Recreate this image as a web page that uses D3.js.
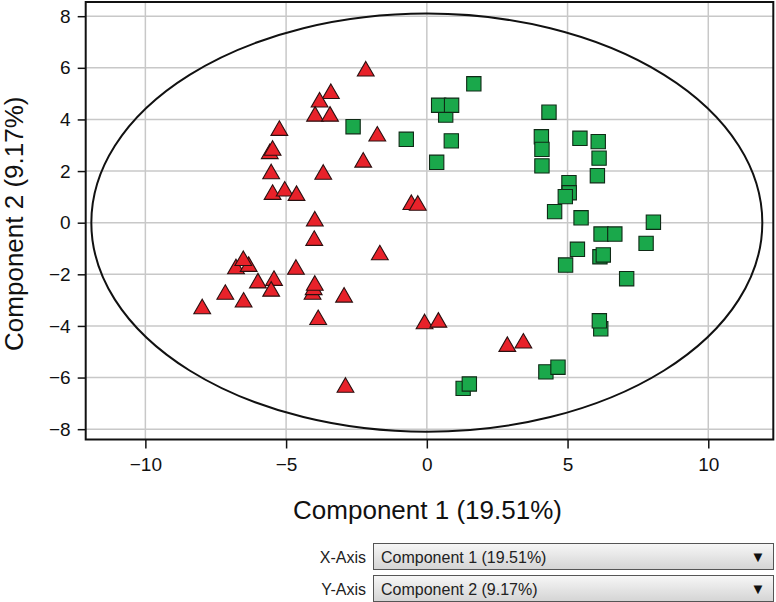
<!DOCTYPE html>
<meta charset="utf-8">
<head>
  <style>
    body { margin: 0; background: #fff; font-family: "Liberation Sans", Arial, Helvetica, sans-serif; }
    .grid line { stroke: #c8c8c8; stroke-width: 1.5; }
    .axis text { font-size: 19px; fill: #111; }
    .axis path { display: none; }
    .axis line { stroke: #111; stroke-width: 1.5; }
    .title { font-size: 26px; fill: #111; }
  </style>
</head>
<body>
  <div class="chart"></div>
  <script src="https://d3js.org/d3.v7.min.js"></script>
  <script>

    // group 1 (red triangles): [component 1, component 2]
    var triangles = [
      [-2.17, 5.89], [-3.41, 5.02], [-3.81, 4.69], [-3.97, 4.14], [-3.44, 4.14],
      [-1.76, 3.37], [-5.24, 3.59], [-5.58, 2.69], [-5.48, 2.82], [-2.26, 2.36],
      [-5.53, 1.91], [-3.68, 1.89], [-5.48, 1.11], [-5.05, 1.24], [-4.63, 1.07],
      [-0.55, 0.72], [-0.32, 0.69], [-3.98, 0.08], [-4.00, -0.67], [-1.67, -1.23],
      [-4.65, -1.79], [-6.00, -2.32], [-5.43, -2.22], [-5.53, -2.64], [-4.06, -2.76],
      [-4.02, -2.58], [-3.98, -2.41], [-2.94, -2.87], [-3.86, -3.74], [-0.08, -3.90],
      [0.41, -3.84], [2.86, -4.78], [3.43, -4.65], [-2.89, -6.36], [-7.98, -3.32],
      [-7.16, -2.76], [-6.51, -3.06], [-6.78, -1.77], [-6.33, -1.68], [-6.52, -1.45]
    ];

    // group 2 (green squares)
    var squares = [
      [-2.62, 3.72], [-0.73, 3.23], [0.35, 2.34], [0.87, 3.17], [0.67, 4.17],
      [0.42, 4.55], [0.88, 4.55], [1.67, 5.38], [4.34, 4.28], [4.07, 3.33],
      [4.09, 2.84], [4.09, 2.20], [5.44, 3.27], [6.09, 3.14], [6.12, 2.50],
      [6.06, 1.82], [5.05, 1.55], [5.06, 1.16], [4.92, 1.01], [4.54, 0.43],
      [5.48, 0.19], [8.05, 0.02], [6.19, -0.44], [6.68, -0.44], [7.79, -0.80],
      [5.35, -1.03], [6.15, -1.32], [6.27, -1.25], [4.93, -1.64], [7.10, -2.17],
      [6.18, -4.11], [6.13, -3.80], [4.23, -5.78], [4.66, -5.60], [1.29, -6.42],
      [1.51, -6.25]
    ];

    var xTicks = [-10, -5, 0, 5, 10];
    var yTicks = [-8, -6, -4, -2, 0, 2, 4, 6, 8];
    var xTitle = "Component 1 (19.51%)";
    var yTitle = "Component 2 (9.17%)";
    var ellipse = { cx: 0, cy: 0, rx: 11.92, ry: 8.1 };
    var selectors = [["X-Axis", xTitle], ["Y-Axis", yTitle]];

    var width = 776, height = 602;
    var plot = { left: 85.7, right: 773.3, top: 2, bottom: 439.5 };

    var x = d3.scaleLinear().domain([-12.12, 12.31]).range([plot.left, plot.right]);
    var y = d3.scaleLinear().domain([-8.4, 8.55]).range([plot.bottom, plot.top]);

    var svg = d3.select(".chart").append("svg")
        .attr("width", width)
        .attr("height", height);

    var defs = svg.append("defs");
    var grad = defs.append("linearGradient")
        .attr("id", "btn").attr("x1", 0).attr("y1", 0).attr("x2", 0).attr("y2", 1);
    grad.append("stop").attr("offset", "0%").attr("stop-color", "#f7f7f7");
    grad.append("stop").attr("offset", "100%").attr("stop-color", "#d4d4d4");

    // grid
    var grid = svg.append("g").attr("class", "grid");
    grid.selectAll(".gx").data(xTicks).enter().append("line")
        .attr("x1", function(d) { return x(d); }).attr("x2", function(d) { return x(d); })
        .attr("y1", plot.top).attr("y2", plot.bottom);
    grid.selectAll(".gy").data(yTicks).enter().append("line")
        .attr("y1", function(d) { return y(d); }).attr("y2", function(d) { return y(d); })
        .attr("x1", plot.left).attr("x2", plot.right);

    // axes
    svg.append("g")
        .attr("class", "axis")
        .attr("transform", "translate(0," + plot.bottom + ")")
        .call(d3.axisBottom(x).tickValues(xTicks).tickSize(9).tickPadding(9));

    svg.append("g")
        .attr("class", "axis")
        .attr("transform", "translate(" + plot.left + ",0)")
        .call(d3.axisLeft(y).tickValues(yTicks).tickSize(8).tickPadding(7));

    // confidence ellipse
    svg.append("ellipse")
        .attr("cx", x(ellipse.cx))
        .attr("cy", y(ellipse.cy))
        .attr("rx", x(ellipse.rx) - x(0))
        .attr("ry", y(0) - y(ellipse.ry))
        .style("fill", "none")
        .style("stroke", "#111")
        .style("stroke-width", 2);

    // points
    svg.append("g").selectAll("path")
        .data(triangles)
      .enter().append("path")
        .attr("d", d3.symbol().type(d3.symbolTriangle).size(122))
        .attr("transform", function(d) { return "translate(" + x(d[0]) + "," + (y(d[1]) + 0.5) + ")"; })
        .style("fill", "#e8222a")
        .style("stroke", "#2a1010")
        .style("stroke-width", 1.1);

    svg.append("g").selectAll("path")
        .data(squares)
      .enter().append("path")
        .attr("d", d3.symbol().type(d3.symbolSquare).size(205))
        .attr("transform", function(d) { return "translate(" + x(d[0]) + "," + y(d[1]) + ")"; })
        .style("fill", "#1aa84b")
        .style("stroke", "#0f2a16")
        .style("stroke-width", 1.1);

    // frame
    svg.append("rect")
        .attr("x", plot.left).attr("y", plot.top)
        .attr("width", plot.right - plot.left).attr("height", plot.bottom - plot.top)
        .style("fill", "none").style("stroke", "#111").style("stroke-width", 2);

    // axis titles
    svg.append("text")
        .attr("class", "title")
        .attr("x", (plot.left + plot.right) / 2 - 2)
        .attr("y", 519)
        .style("text-anchor", "middle")
        .text(xTitle);

    svg.append("text")
        .attr("class", "title")
        .attr("transform", "translate(23," + ((plot.top + plot.bottom) / 2 + 3) + ") rotate(-90)")
        .style("text-anchor", "middle")
        .text(yTitle);

    // axis selectors
    var sel = svg.append("g").selectAll("g")
        .data(selectors)
      .enter().append("g")
        .attr("transform", function(d, i) { return "translate(0," + (543 + i * 32) + ")"; });

    sel.append("text")
        .attr("x", 366).attr("y", 20)
        .style("text-anchor", "end")
        .style("font-size", "16px")
        .style("fill", "#222")
        .text(function(d) { return d[0]; });

    sel.append("rect")
        .attr("x", 373.5).attr("y", 0.5)
        .attr("width", 400).attr("height", 26)
        .style("fill", "url(#btn)")
        .style("stroke", "#555")
        .style("stroke-width", 1);

    sel.append("text")
        .attr("x", 381).attr("y", 20)
        .style("font-size", "16px")
        .style("fill", "#222")
        .text(function(d) { return d[1]; });

    sel.append("text")
        .attr("x", 758).attr("y", 19)
        .style("text-anchor", "middle")
        .style("font-size", "15px")
        .style("fill", "#111")
        .text("\u25BC");
  </script>
</body>
